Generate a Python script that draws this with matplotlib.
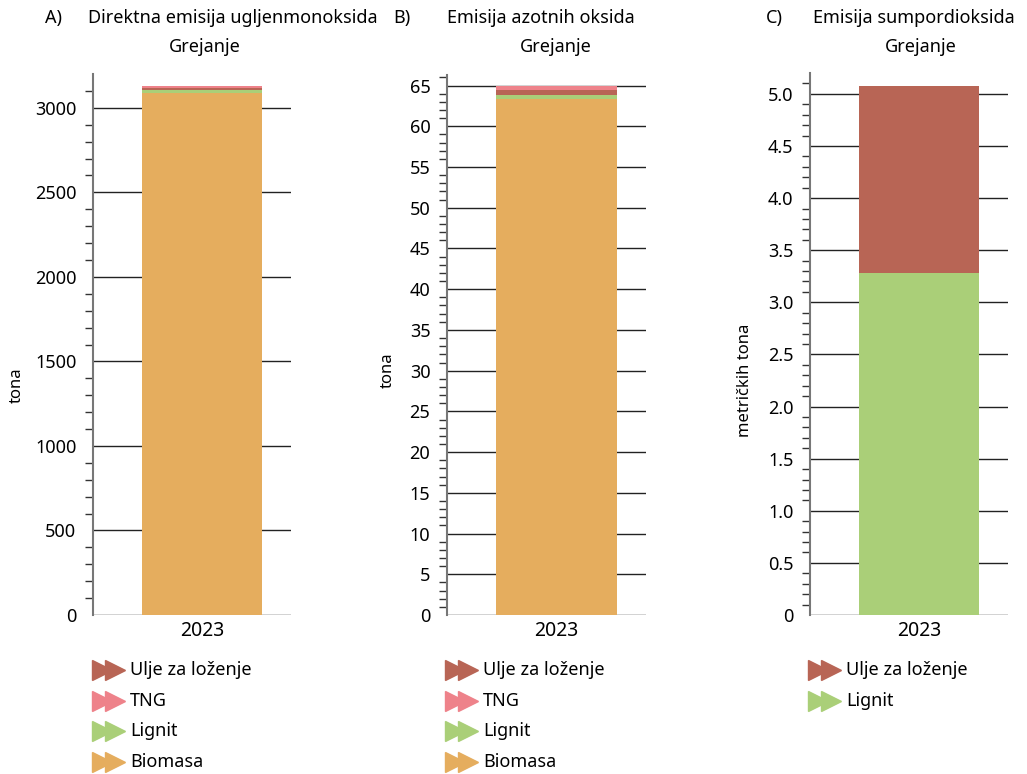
import matplotlib
matplotlib.use("Agg")
import matplotlib.pyplot as plt
import numpy as np

plt.rcParams['font.family'] = ['Noto Sans', 'DejaVu Sans']

year = ["2023"]

# Panel A – CO (tona)
a_series = ["Biomasa", "Lignit", "Ulje za loženje", "TNG"]
a_values = [3087, 20, 8, 15]
a_legend = ["Ulje za loženje", "TNG", "Lignit", "Biomasa"]
a_ticks = [0, 500, 1000, 1500, 2000, 2500, 3000]
a_ticklabels = ["0", "500", "1000", "1500", "2000", "2500", "3000"]

# Panel B – NOx (tona)
b_series = ["Biomasa", "Lignit", "Ulje za loženje", "TNG"]
b_values = [63.4, 0.5, 0.5, 0.5]
b_legend = ["Ulje za loženje", "TNG", "Lignit", "Biomasa"]
b_ticks = [0, 5, 10, 15, 20, 25, 30, 35, 40, 45, 50, 55, 60, 65]
b_ticklabels = [str(t) for t in b_ticks]

# Panel C – SO2 (metričkih tona)
c_series = ["Lignit", "Ulje za loženje"]
c_values = [3.28, 1.80]
c_legend = ["Ulje za loženje", "Lignit"]
c_ticks = [0, 0.5, 1.0, 1.5, 2.0, 2.5, 3.0, 3.5, 4.0, 4.5, 5.0]
c_ticklabels = ["0", "0.5", "1.0", "1.5", "2.0", "2.5", "3.0", "3.5", "4.0", "4.5", "5.0"]

colors = {"Biomasa": "#E5AD5E", "Lignit": "#AACF78",
          "TNG": "#EE828A", "Ulje za loženje": "#B86555"}

W, H = 1027, 774
fig = plt.figure(figsize=(W / 100, H / 100), dpi=100)


def px(x0, y0, x1, y1):
    return [x0 / W, 1 - y1 / H, (x1 - x0) / W, (y1 - y0) / H]


panels = [
    dict(rect=px(93, 74, 291, 615), series=a_series, values=a_values, legend=a_legend,
         ticks=a_ticks, labels=a_ticklabels, ymax=3200, minor=100,
         letter="A)", title="Direktna emisija ugljenmonoksida", letter_x=45, title_x=88,
         sub_x=205, ylabel="tona", ylabel_x=17, ylabel_y=385, leg_x=95),
    dict(rect=px(447, 75, 646, 615), series=b_series, values=b_values, legend=b_legend,
         ticks=b_ticks, labels=b_ticklabels, ymax=66.3, minor=1,
         letter="B)", title="Emisija azotnih oksida", letter_x=393, title_x=447,
         sub_x=556, ylabel="tona", ylabel_x=388, ylabel_y=370, leg_x=448),
    dict(rect=px(810, 73, 1008, 615), series=c_series, values=c_values, legend=c_legend,
         ticks=c_ticks, labels=c_ticklabels, ymax=5.2, minor=0.1,
         letter="C)", title="Emisija sumpordioksida", letter_x=766, title_x=813,
         sub_x=921, ylabel="metričkih tona", ylabel_x=745, ylabel_y=380, leg_x=811),
]

for p in panels:
    ax = fig.add_axes(p["rect"])
    bottom = 0
    for name, v in zip(p["series"], p["values"]):
        ax.bar([0], [v], width=0.6, bottom=bottom, color=colors[name], zorder=3)
        bottom += v
    ax.set_xlim(-0.545, 0.445)
    ax.set_ylim(0, p["ymax"])
    ax.set_xticks([0])
    ax.set_xticklabels(year, fontsize=14)
    ax.tick_params(axis='x', length=0, pad=4)
    ax.set_yticks(p["ticks"])
    ax.set_yticklabels(p["labels"], fontsize=13)
    step = p["ticks"][1] - p["ticks"][0]
    minors = [m for m in np.arange(0, p["ymax"], p["minor"])
              if abs((m / step) - round(m / step)) > 1e-6]
    ax.set_yticks(minors, minor=True)
    ax.tick_params(axis='y', which='major', length=0, pad=12)
    ax.tick_params(axis='y', which='minor', length=6, width=1, color='#333333')
    for t in p["ticks"]:
        ax.axhline(t, color='#222222', lw=1, zorder=1)
    for s in ['top', 'right', 'bottom']:
        ax.spines[s].set_visible(False)
    ax.spines['left'].set_color('#777777')
    ax.spines['left'].set_linewidth(1.5)

    fig.text(p["letter_x"] / W, 1 - 18 / H, p["letter"], fontsize=13, va='center', ha='left')
    fig.text(p["title_x"] / W, 1 - 18 / H, p["title"], fontsize=13, va='center', ha='left')
    fig.text(p["sub_x"] / W, 1 - 47 / H, "Grejanje", fontsize=13, va='center', ha='center')
    fig.text(p["ylabel_x"] / W, 1 - p["ylabel_y"] / H, p["ylabel"], fontsize=12,
             rotation=90, va='center', ha='center')

    for i, name in enumerate(p["legend"]):
        y = 1 - (670 + i * 30.7) / H
        x0 = p["leg_x"]
        for dx in (7, 20):
            fig.add_artist(plt.Line2D([(x0 + dx) / W], [y], marker='>', markersize=15,
                                      color=colors[name], linestyle='none'))
        fig.text((x0 + 35) / W, y, name, fontsize=13, va='center', ha='left')

fig.savefig("out.png", dpi=100)
